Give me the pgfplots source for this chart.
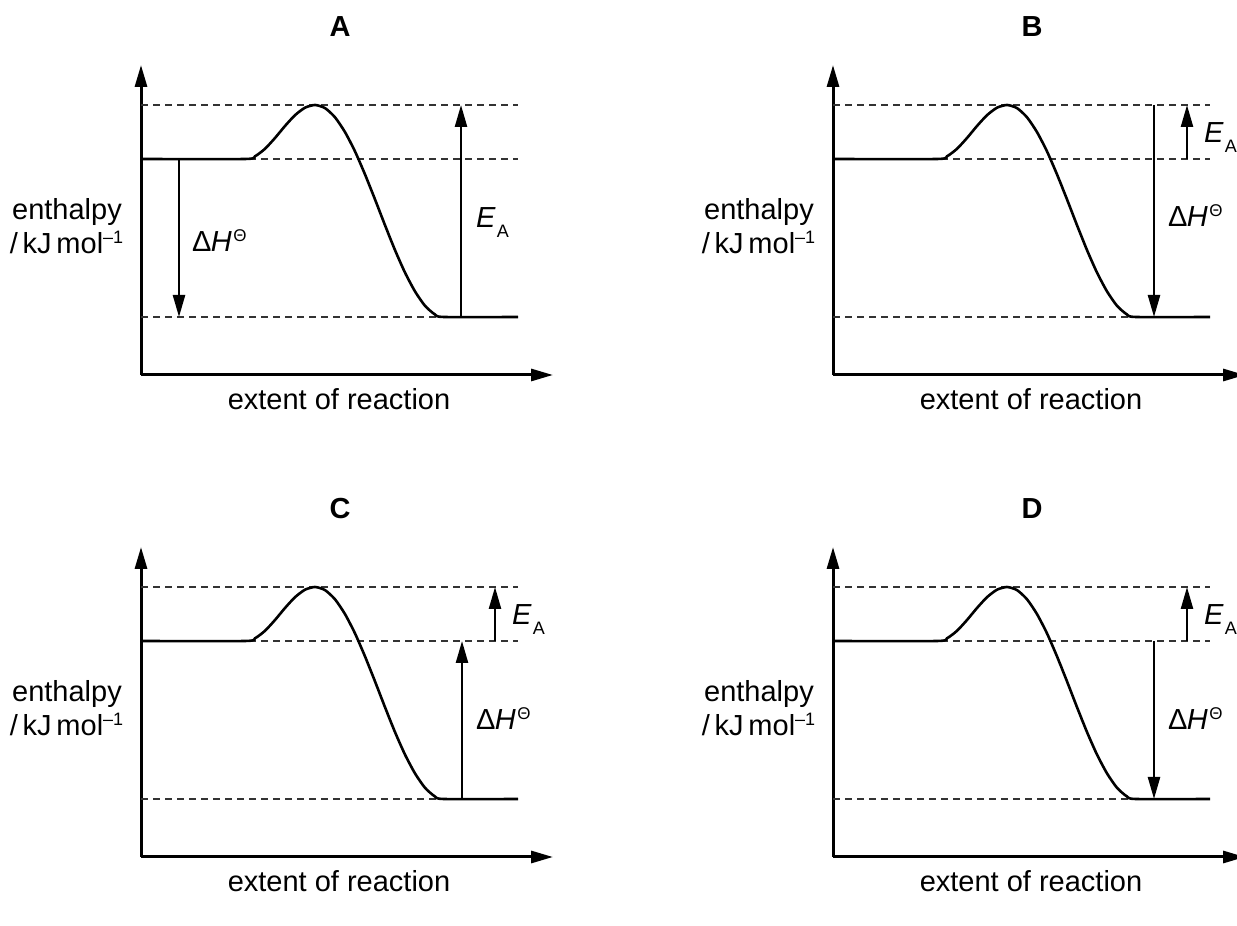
\documentclass[border=0pt]{standalone}
\usepackage{fontspec}
\setmainfont{Liberation Sans}
\usepackage{pgfplots}
\usepackage{pgfplotstable}
\pgfplotsset{compat=1.18}
\usetikzlibrary{arrows.meta}

\pgfplotstableread{
x y
0 216
104 216
114 218.7
124 226.2
134 237
144 249
154 259.8
164 267.3
174 270
184 266.9
194 257.7
204 242.9
214 223.6
224 200.6
234 175.6
244 149.8
254 124.9
264 102.4
274 83.6
284 69.2
294 60.5
303 58
377 58
}\curve

\newcommand{\dH}{Δ\kern-0.3pt\textit{H}\kern0.8pt\raisebox{5pt}{\fontsize{8.5}{9}\selectfont Θ}}
\newcommand{\EA}{\textit{E}\kern0.6pt\raisebox{-5pt}{\fontsize{9}{10}\selectfont A}}
\newcommand{\ylab}{%
  \node[anchor=base] at (axis cs:-74,155) {enthalpy};
  \node[anchor=base] at (axis cs:-74,121) {/\,kJ\,mol\textsuperscript{\fontsize{9}{10}\selectfont –1}};
  \node[anchor=base] at (axis cs:198,-35) {extent of reaction};
}
\newcommand{\dashes}{%
  \addplot[dashline] coordinates {(0,270) (377,270)};
  \addplot[dashline] coordinates {(0,216) (377,216)};
  \addplot[dashline] coordinates {(0,58) (377,58)};
  \addplot[line width=1.3pt, smooth, tension=0.4] table[x=x,y=y] {\curve};
}

\pgfplotsset{
  dashline/.style={line width=0.6pt, black!80, dash pattern=on 3.5pt off 2.5pt},
  arr/.style={line width=1.2pt, -{Triangle[length=11pt,width=6pt]}},
  enth/.style={
    width=206pt, height=155pt, scale only axis,
    xmin=0, xmax=412, ymin=0, ymax=310,
    axis lines=left,
    axis line style={line width=1.5pt, -{Triangle[length=11pt,width=6pt]}},
    ticks=none, clip=false, anchor=south west,
  },
}

\begin{document}
\begin{tikzpicture}[font=\fontsize{14.5}{17}\selectfont]
\path[use as bounding box] (0,0) rectangle (618.5pt,463pt);

% A
\begin{axis}[enth, at={(70.5pt,275.5pt)}]
\dashes
\addplot[arr] coordinates {(38,216) (38,58)};
\addplot[arr] coordinates {(320,58) (320,270)};
\node[anchor=base] at (axis cs:199,338) {\textbf{A}};
\node[anchor=base west] at (axis cs:44,123) {\dH};
\node[anchor=base west] at (axis cs:328,147) {\EA};
\ylab
\end{axis}

% B
\begin{axis}[enth, at={(416.5pt,275.5pt)}]
\dashes
\addplot[arr] coordinates {(321,270) (321,58)};
\addplot[arr] coordinates {(354,216) (354,270)};
\node[anchor=base] at (axis cs:199,338) {\textbf{B}};
\node[anchor=base west] at (axis cs:328,148) {\dH};
\node[anchor=base west] at (axis cs:364,232) {\EA};
\ylab
\end{axis}

% C
\begin{axis}[enth, at={(70.5pt,34.5pt)}]
\dashes
\addplot[arr] coordinates {(321,58) (321,216)};
\addplot[arr] coordinates {(354,216) (354,270)};
\node[anchor=base] at (axis cs:199,338) {\textbf{C}};
\node[anchor=base west] at (axis cs:328,127) {\dH};
\node[anchor=base west] at (axis cs:364,232) {\EA};
\ylab
\end{axis}

% D
\begin{axis}[enth, at={(416.5pt,34.5pt)}]
\dashes
\addplot[arr] coordinates {(321,216) (321,58)};
\addplot[arr] coordinates {(354,216) (354,270)};
\node[anchor=base] at (axis cs:199,338) {\textbf{D}};
\node[anchor=base west] at (axis cs:328,127) {\dH};
\node[anchor=base west] at (axis cs:364,232) {\EA};
\ylab
\end{axis}
\end{tikzpicture}
\end{document}
